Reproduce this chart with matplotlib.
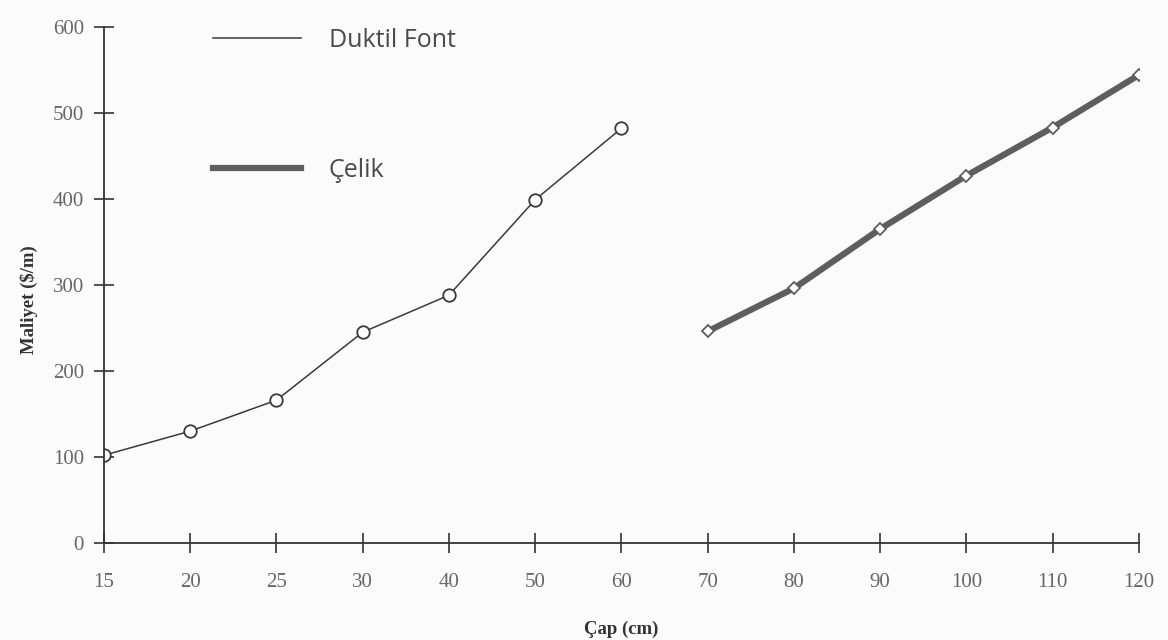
import matplotlib.pyplot as plt
import numpy as np

# Data
diameters = ["15", "20", "25", "30", "40", "50", "60", "70", "80", "90", "100", "110", "120"]

ductile_idx = [0, 1, 2, 3, 4, 5, 6]
ductile_cost = [102, 130, 166, 245, 288, 399, 482]

steel_idx = [7, 8, 9, 10, 11, 12]
steel_cost = [246, 296, 365, 427, 483, 544]

y_ticks = [0, 100, 200, 300, 400, 500, 600]

# Figure
fig = plt.figure(figsize=(11.68, 6.4), dpi=100, facecolor="#fbfbfb")
ax = fig.add_axes([0.0890, 0.1516, 0.886, 0.8064])
ax.set_facecolor("#fbfbfb")

ax.plot(ductile_idx, ductile_cost, color="#3a3a3a", linewidth=1.1,
        marker="o", markersize=9, markerfacecolor="white",
        markeredgecolor="#3a3a3a", markeredgewidth=1.3, label="Duktil Font")
ax.plot(steel_idx, steel_cost, color="#5e5e5e", linewidth=4.5,
        marker="D", markersize=6, markerfacecolor="white",
        markeredgecolor="#5e5e5e", markeredgewidth=1.3, label="Çelik")

ax.set_xlim(0, 12)
ax.set_ylim(0, 600)
ax.set_xticks(np.arange(len(diameters)))
ax.set_xticklabels(diameters)
ax.set_yticks(y_ticks)

for side in ["top", "right"]:
    ax.spines[side].set_visible(False)
for side in ["left", "bottom"]:
    ax.spines[side].set_color("#333333")
    ax.spines[side].set_linewidth(1.3)

ax.tick_params(direction="inout", length=15, width=1.2, color="#333333",
               labelcolor="#666666", labelsize=15)
ax.tick_params(axis="x", pad=14)
ax.tick_params(axis="y", pad=7)
for lab in ax.get_xticklabels() + ax.get_yticklabels():
    lab.set_family("Liberation Serif")

ax.set_xlabel("Çap (cm)", family="Liberation Serif", fontweight="bold",
              fontsize=13.5, color="#333333")
ax.set_ylabel("Maliyet ($/m)", family="Liberation Serif", fontweight="bold",
              fontsize=13.5, color="#333333")
ax.xaxis.set_label_coords(0.5, -0.15)
ax.yaxis.set_label_coords(-0.064, 0.471)

leg = fig.legend(loc="upper left", bbox_to_anchor=(200 / 1168, 0.976),
                 frameon=False, borderpad=0, handlelength=3.55,
                 handletextpad=1.1, labelspacing=4.2,
                 prop={"family": "Open Sans", "size": 18})
for t in leg.get_texts():
    t.set_color("#4a4a4a")
for h in leg.legend_handles:
    h.set_marker("")

fig.savefig("out.png", dpi=100, facecolor=fig.get_facecolor())
